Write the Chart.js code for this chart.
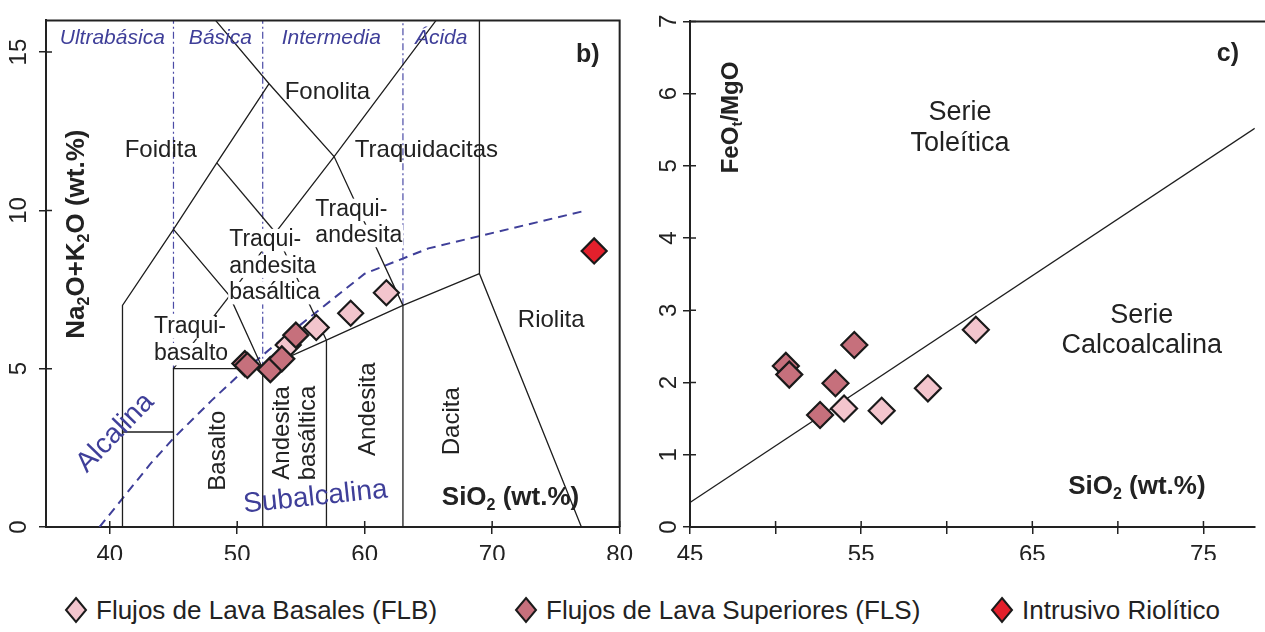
<!DOCTYPE html>
<html><head><meta charset="utf-8">
<script src="https://cdn.jsdelivr.net/npm/chart.js@4.4.1/dist/chart.umd.min.js"></script>
<style>
html,body{margin:0;padding:0;background:#fff;overflow:hidden;width:1265px;height:632px;}
#c1{position:absolute;left:0;top:0;}
#c2{position:absolute;left:640px;top:0;}
#legend{position:absolute;left:0;top:590px;width:1265px;height:40px;font-family:"Liberation Sans",Arial,sans-serif;font-size:26px;color:#222;}
.item{position:absolute;top:0;height:40px;display:flex;align-items:center;white-space:nowrap;}
.item svg{margin-right:8px;}
</style></head><body>
<canvas id="c1" width="640" height="560"></canvas>
<canvas id="c2" width="630" height="560"></canvas>
<div id="legend"></div>
<script>
// ---------------- DATA ----------------
const seriesNames = ['Flujos de Lava Basales (FLB)', 'Flujos de Lava Superiores (FLS)', 'Intrusivo Riolítico'];
// samples (SiO2 wt.%)
const flbSiO2 = [54.0, 56.2, 58.9, 61.7];
const flbAlk  = [5.75, 6.30, 6.75, 7.40];   // Na2O+K2O
const flbFeMg = [1.64, 1.61, 1.92, 2.73];   // FeOt/MgO
const flsSiO2 = [50.6, 50.8, 52.6, 53.5, 54.6];
const flsAlk  = [5.16, 5.10, 4.97, 5.31, 6.06];
const flsFeMg = [2.23, 2.11, 1.55, 1.99, 2.52];
const intSiO2 = [78.0];
const intAlk  = [8.72];

// axes ticks
const tasXTicks = [40, 50, 60, 70, 80];
const tasYTicks = [0, 5, 10, 15];
const feXTicks  = [45, 50, 55, 60, 65, 70, 75];
const feXLabels = ['45', '', '55', '', '65', '', '75'];
const feYTicks  = [0, 1, 2, 3, 4, 5, 6, 7];

// TAS field boundaries (SiO2, Na2O+K2O)
const tasBoundaries = [
  [[41,0],[41,7],[45,9.4],[48.4,11.5],[52.5,14]],
  [[48.3,16],[52.5,14],[57.6,11.7],[63,7]],
  [[41,3],[45,3]],
  [[45,0],[45,5],[52,5],[57,5.9],[63,7],[69,8],[77,0]],
  [[52,0],[52,5]],
  [[57,0],[57,5.9]],
  [[63,0],[63,7]],
  [[69,8],[69,16]],
  [[45,5],[49.4,7.3]],
  [[45,9.4],[49.4,7.3],[52,5]],
  [[49.4,7.3],[53,9.3],[57.6,11.7],[65.6,16]],
  [[48.4,11.5],[53,9.3]],
  [[53,9.3],[57,5.9]]
];
// silica-class dividers (dash-dot)
const divSiO2 = [45, 52, 63];
const divFrom = [5, 5, 7];
const divTo   = [16, 16, 16];
// alkaline / subalkaline divide (Irvine & Baragar)
const alkSiO2 = [39.2, 40, 43.2, 45, 48, 50, 53.7, 55, 60, 65, 77.4];
const alkTot  = [0, 0.4, 2, 2.8, 4, 4.75, 6, 6.4, 8, 8.8, 10];
// tholeiitic / calc-alkaline divide
const miyaSiO2 = [45, 78];
const miyaFeMg = [0.34, 5.52];

// ---------------- STYLE / HELPERS ----------------
const FONT = '"Liberation Sans", Arial, Helvetica, sans-serif';
Chart.defaults.font.family = FONT;
const INK = '#222';
const BLUE = '#3f3f99';
const colFLB = '#f3c5cd', colFLS = '#c6707c', colINT = '#e3202c';

function parseRich(str){
  const out = []; let cur = ''; let i = 0;
  while (i < str.length){
    if (str[i] === '_'){ if (cur) out.push({t:cur, sub:false}); cur=''; out.push({t:str[i+1], sub:true}); i += 2; }
    else { cur += str[i]; i++; }
  }
  if (cur) out.push({t:cur, sub:false});
  return out;
}
function drawLabel(ctx, chart, L){
  const px = chart.scales.x.getPixelForValue(L.x);
  const py = chart.scales.y.getPixelForValue(L.y);
  const size = L.size || 24;
  const pre = (L.italic ? 'italic ' : '') + (L.bold ? 'bold ' : '');
  const mainFont = pre + size + 'px ' + FONT;
  const subFont = pre + Math.round(size*0.62) + 'px ' + FONT;
  const lines = L.text.split('\n');
  const lh = L.lh || size*1.1;
  ctx.save();
  ctx.translate(px, py);
  if (L.rot) ctx.rotate(L.rot*Math.PI/180);
  ctx.textBaseline = 'middle';
  ctx.textAlign = 'left';
  lines.forEach((line, i) => {
    const segs = parseRich(line);
    let w = 0;
    segs.forEach(s => { ctx.font = s.sub ? subFont : mainFont; s.w = ctx.measureText(s.t).width; w += s.w; });
    const ly = (i - (lines.length-1)/2) * lh;
    let sx = L.align === 'left' ? 0 : -w/2;
    if (L.bg){ ctx.fillStyle = '#fff'; ctx.fillRect(sx-1, ly - size*0.48, w+2, size*0.98); }
    ctx.fillStyle = L.color || INK;
    segs.forEach(s => { ctx.font = s.sub ? subFont : mainFont; ctx.fillText(s.t, sx, ly + (s.sub ? size*0.3 : 0)); sx += s.w; });
  });
  ctx.restore();
}
function makeLabelPlugin(items){
  const drawAll = (chart) => items.forEach(L => drawLabel(chart.ctx, chart, L));
  return {
    id: 'labels',
    beforeDatasetsDraw(chart){ chart.$lblDone = false; },
    beforeDatasetDraw(chart, args){
      const ds = chart.data.datasets[args.index];
      if (ds.isPt && !chart.$lblDone){ chart.$lblDone = true; drawAll(chart); }
    },
    afterDatasetsDraw(chart){ if (!chart.$lblDone){ chart.$lblDone = true; drawAll(chart); } }
  };
}
function makeFramePlugin(full){
  return {
    id: 'frame',
    afterDraw(chart){
      const {ctx, chartArea:a} = chart;
      ctx.save();
      ctx.strokeStyle = INK; ctx.lineWidth = 2;
      ctx.beginPath();
      if (full){ ctx.moveTo(a.left, a.top); ctx.lineTo(a.right, a.top); ctx.lineTo(a.right, a.bottom); }
      else { ctx.moveTo(a.left, a.top); ctx.lineTo(chart.width, a.top); }
      ctx.stroke();
      // inward tick halves
      ctx.lineWidth = 1.5;
      ctx.beginPath();
      chart.scales.x.ticks.forEach(t => { const p = chart.scales.x.getPixelForValue(t.value); ctx.moveTo(p, a.bottom); ctx.lineTo(p, a.bottom-6); });
      chart.scales.y.ticks.forEach(t => { const p = chart.scales.y.getPixelForValue(t.value); ctx.moveTo(a.left, p); ctx.lineTo(a.left+6, p); });
      ctx.stroke();
      ctx.restore();
    }
  };
}
function pts(xs, ys){ return xs.map((x, i) => ({x, y: ys[i]})); }
function lineDs(data, color, width, dash){
  return {data, showLine:true, borderColor:color, borderWidth:width, borderDash:dash||[], pointRadius:0, order:10, tension:0, fill:false};
}
function ptDs(data, color, r, order){
  return {data, isPt:true, showLine:false, pointStyle:'rectRot', pointRadius:r, pointBackgroundColor:color, pointBorderColor:'#1a1a1a', pointBorderWidth:2.2, order};
}
function scaleCommon(min, max, tickVals, fitProp, fitVal, isY, pad){
  return {
    type:'linear', min, max,
    afterBuildTicks: s => { s.ticks = tickVals.map(v => ({value:v})); },
    afterFit: s => { s[fitProp] = fitVal; },
    grid:{drawOnChartArea:false, drawTicks:true, tickLength:7, color:INK, lineWidth:1.5},
    border:{display:true, color:INK, width:2},
    ticks: isY ? {font:{size:24}, color:INK, minRotation:90, maxRotation:90, crossAlign:'center', padding:pad, autoSkip:false}
               : {font:{size:24}, color:INK, maxRotation:0, padding:pad, autoSkip:false}
  };
}

// ---------------- PANEL b) TAS ----------------
const tasDatasets = [];
tasBoundaries.forEach(pl => tasDatasets.push(lineDs(pl.map(p => ({x:p[0], y:p[1]})), '#1e1e1e', 1.3)));
divSiO2.forEach((s, i) => tasDatasets.push(lineDs([{x:s, y:divFrom[i]}, {x:s, y:divTo[i]}], '#4b4ba6', 1.2, [7,3,2,3])));
tasDatasets.push(lineDs(pts(alkSiO2, alkTot), BLUE, 2, [9,6]));
tasDatasets.push(ptDs(pts(flbSiO2, flbAlk), colFLB, 12.5, 3));
tasDatasets.push(ptDs(pts(flsSiO2, flsAlk), colFLS, 12.5, 2));
tasDatasets.push(ptDs(pts(intSiO2, intAlk), colINT, 12.5, 1));

const tasLabels = [
  {text:'Ultrabásica', x:40.2, y:15.44, size:21, italic:true, color:BLUE},
  {text:'Básica', x:48.68, y:15.44, size:21, italic:true, color:BLUE},
  {text:'Intermedia', x:57.38, y:15.44, size:21, italic:true, color:BLUE},
  {text:'Ácida', x:66.0, y:15.44, size:21, italic:true, color:BLUE},
  {text:'b)', x:77.5, y:14.9, size:25, bold:true},
  {text:'Fonolita', x:57.07, y:13.72, size:24},
  {text:'Foidita', x:44.0, y:11.88, size:24},
  {text:'Traquidacitas', x:64.84, y:11.88, size:24},
  {text:'Traqui-\nandesita', x:56.13, y:9.61, size:23, lh:26, align:'left', bg:true},
  {text:'Traqui-\nandesita\nbasáltica', x:49.37, y:8.23, size:23, lh:26.5, align:'left', bg:true},
  {text:'Traqui-\nbasalto', x:43.47, y:5.89, size:23, lh:27, align:'left', bg:true},
  {text:'Riolita', x:74.63, y:6.53, size:24},
  {text:'Basalto', x:48.52, y:2.41, size:24, rot:-90},
  {text:'Andesita\nbasáltica', x:54.58, y:2.97, size:24, lh:26, rot:-90},
  {text:'Andesita', x:60.25, y:3.72, size:24, rot:-90},
  {text:'Dacita', x:66.86, y:3.34, size:24, rot:-90},
  {text:'Alcalina', x:40.44, y:2.97, size:28, rot:-46, color:BLUE},
  {text:'Subalcalina', x:56.13, y:0.94, size:28, rot:-6, color:BLUE},
  {text:'SiO_2 (wt.%)', x:71.44, y:0.91, size:26, bold:true},
  {text:'Na_2O+K_2O (wt.%)', x:37.41, y:9.25, size:26, bold:true, rot:-90}
];

new Chart(document.getElementById('c1'), {
  type:'scatter',
  data:{datasets:tasDatasets},
  options:{
    responsive:false, animation:false, events:[],
    layout:{padding:{top:15, right:15, left:0, bottom:0}},
    plugins:{legend:{display:false}, tooltip:{enabled:false}},
    scales:{
      x: scaleCommon(35, 80, tasXTicks, 'height', 33, false, 7),
      y: scaleCommon(0, 16, tasYTicks, 'width', 46, true, 6)
    }
  },
  plugins:[makeLabelPlugin(tasLabels), makeFramePlugin(true)]
});

// ---------------- PANEL c) FeOt/MgO ----------------
const feDatasets = [
  lineDs(pts(miyaSiO2, miyaFeMg), '#1e1e1e', 1.3),
  ptDs(pts(flbSiO2, flbFeMg), colFLB, 13, 2),
  ptDs(pts(flsSiO2, flsFeMg), colFLS, 13, 3)
];
const feLabels = [
  {text:'Serie\nToleítica', x:60.77, y:5.53, size:27, lh:31},
  {text:'Serie\nCalcoalcalina', x:71.4, y:2.72, size:27, lh:30},
  {text:'c)', x:76.43, y:6.55, size:25, bold:true},
  {text:'SiO_2 (wt.%)', x:71.11, y:0.55, size:26, bold:true},
  {text:'FeO_t/MgO', x:47.4, y:5.67, size:24, bold:true, rot:-90}
];
const feX = scaleCommon(45, 78, feXTicks, 'height', 33, false, 7);
feX.ticks.callback = v => feXLabels[feXTicks.indexOf(v)];
new Chart(document.getElementById('c2'), {
  type:'scatter',
  data:{datasets:feDatasets},
  options:{
    responsive:false, animation:false, events:[],
    layout:{padding:{top:15, right:2.5, left:0, bottom:0}},
    plugins:{legend:{display:false}, tooltip:{enabled:false}},
    scales:{
      x: feX,
      y: scaleCommon(0, 7, feYTicks, 'width', 50, true, 7)
    }
  },
  plugins:[makeLabelPlugin(feLabels), makeFramePlugin(false)]
});

// ---------------- LEGEND ----------------
const legendCols = [colFLB, colFLS, colINT];
const legendLeft = [64, 514, 990];
const lg = document.getElementById('legend');
seriesNames.forEach((name, i) => {
  const d = document.createElement('div');
  d.className = 'item';
  d.style.left = legendLeft[i] + 'px';
  d.innerHTML = '<svg width="24" height="28"><polygon points="12,2 22,14 12,26 2,14" fill="' + legendCols[i] + '" stroke="#1a1a1a" stroke-width="2"/></svg><span>' + name + '</span>';
  lg.appendChild(d);
});
</script>
</body></html>
